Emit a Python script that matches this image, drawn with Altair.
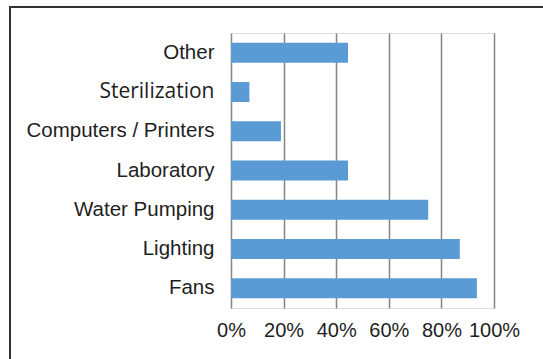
import altair as alt
import pandas as pd

categories = ["Other", "Sterilization", "Computers / Printers", "Laboratory",
              "Water Pumping", "Lighting", "Fans"]
shares = [0.445, 0.07, 0.19, 0.445, 0.75, 0.87, 0.935]

df = pd.DataFrame({"use": categories, "share": shares})

bars = alt.Chart(df).mark_bar(color="#5B9BD5").encode(
    x=alt.X(
        "share:Q",
        scale=alt.Scale(domain=[0, 1], nice=False),
        axis=alt.Axis(
            format="%", values=[0, 0.2, 0.4, 0.6, 0.8, 1.0], title=None,
            grid=True, gridColor="#858585", gridWidth=1.5,
            domain=False, ticks=False, labelPadding=12, labelOverlap=False,
            labelFlush=False,
            labelFont="Liberation Sans", labelFontSize=20, labelColor="#1e1e1e",
        ),
    ),
    y=alt.Y(
        "use:N", sort=categories, title=None,
        scale=alt.Scale(paddingInner=0.49, paddingOuter=0.25),
        axis=alt.Axis(
            domain=False, ticks=False, grid=False, labelPadding=17,
            labelColor="#1e1e1e", labelLimit=300, labelOverlap=False,
            labelFontSize={"condition": {"test": "datum.label == 'Sterilization'",
                                         "value": 21},
                           "value": 20.5},
            labelFont={"condition": {"test": "datum.label == 'Sterilization'",
                                     "value": "Open Sans"},
                       "value": "Liberation Sans"},
        ),
    ),
)

# outer frame: top and left edges
frame_top = alt.Chart(df).mark_rule(color="#333333", strokeWidth=2).encode(
    x=alt.value(-222), x2=alt.value(320), y=alt.value(-26)
)
frame_left = alt.Chart(df).mark_rule(color="#333333", strokeWidth=2).encode(
    x=alt.value(-221), y=alt.value(-27), y2=alt.value(340)
)

chart = alt.layer(bars, frame_top, frame_left).properties(
    width=263, height=275,
    autosize=alt.AutoSizeParams(type="none"),
    padding={"left": 231, "top": 33, "right": 49, "bottom": 51},
).configure_view(stroke=None).configure(background="white")

chart.save("out.html", embed_options={"renderer": "svg", "actions": False})
